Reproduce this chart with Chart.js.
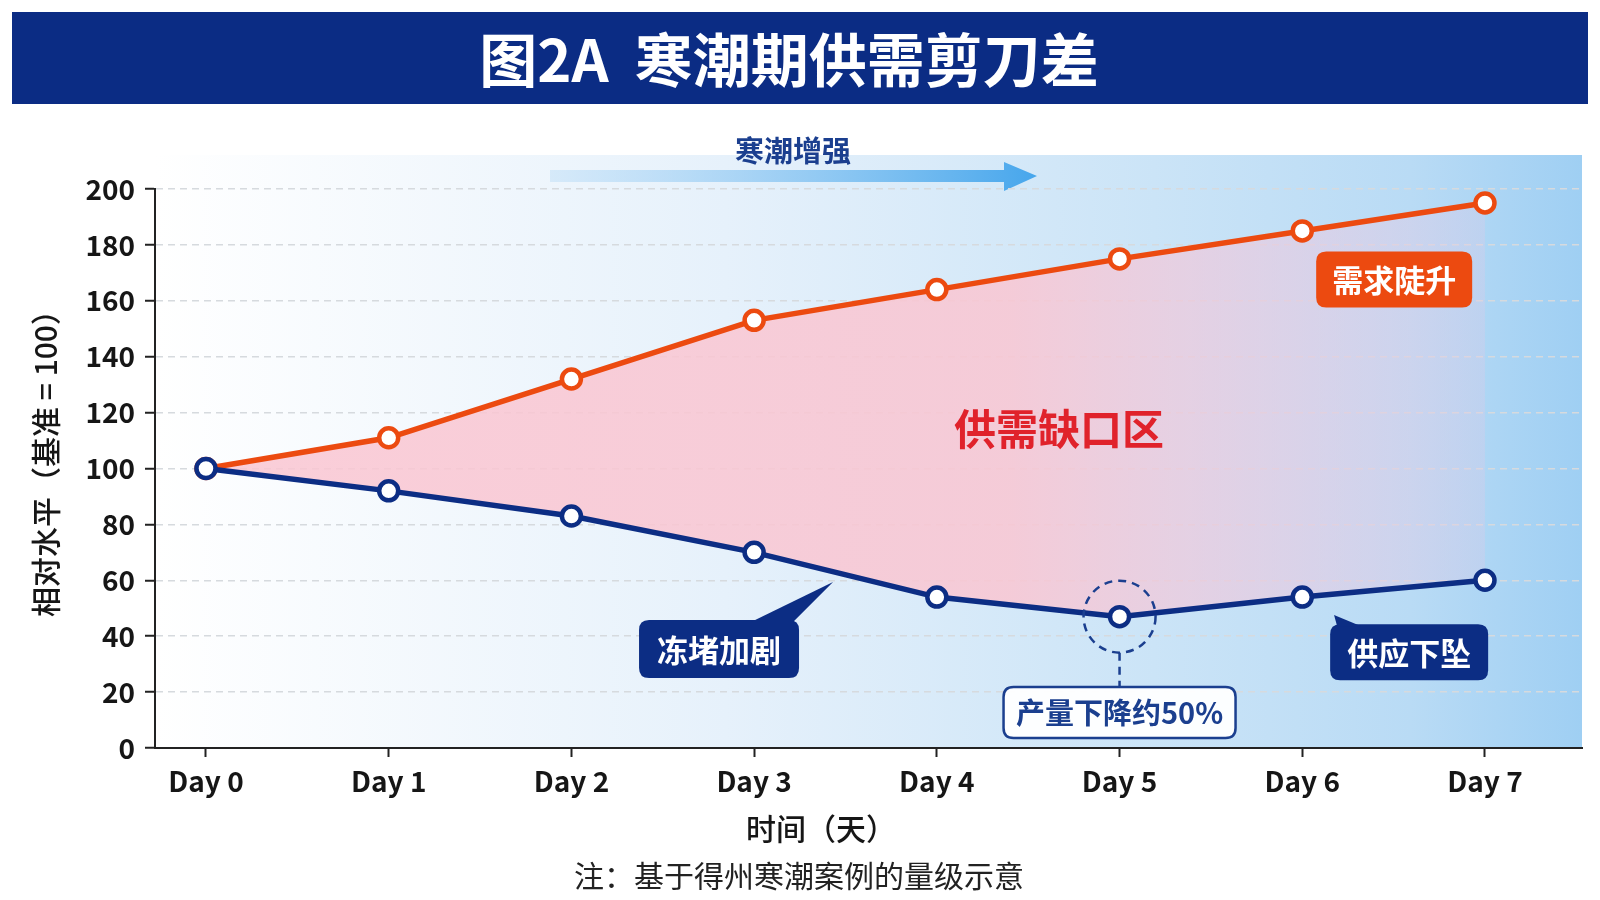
<!DOCTYPE html>
<html><head><meta charset="utf-8">
<script src="https://cdn.jsdelivr.net/npm/chart.js@4.4.1/dist/chart.umd.min.js"></script>
<style>html,body{margin:0;padding:0;background:#fff;}#wrap{width:1600px;height:900px;position:relative}</style>
</head><body><div id="wrap"><canvas id="c"></canvas></div>
<script>
// ---- data ----
const days = ['Day 0','Day 1','Day 2','Day 3','Day 4','Day 5','Day 6','Day 7'];
const demand = [100, 111, 132, 153, 164, 175, 185, 195];
const supply = [100, 92, 83, 70, 54, 47, 54, 60];
const yTicks = [0, 20, 40, 60, 80, 100, 120, 140, 160, 180, 200];
const titleText = '图2A 寒潮期供需剪刀差';
const yTitle = '相对水平（基准 = 100）';
const xTitle = '时间（天）';
const noteText = '注：基于得州寒潮案例的量级示意';
const arrowText = '寒潮增强';
const gapText = '供需缺口区';
const demandTag = '需求陡升';
const jamTag = '冻堵加剧';
const supplyTag = '供应下坠';
const dropTag = '产量下降约50%';

// ---- styles ----
const FONT = "'Noto Sans CJK SC','Noto Sans',sans-serif";
const ORANGE = '#ec4a10';
const NAVY = '#0c2d84';
const NAVY2 = '#1b3f8f';
const INK = '#161616';

function rr(ctx, x, y, w, h, r) {
  ctx.beginPath();
  ctx.moveTo(x + r, y);
  ctx.lineTo(x + w - r, y);
  ctx.quadraticCurveTo(x + w, y, x + w, y + r);
  ctx.lineTo(x + w, y + h - r);
  ctx.quadraticCurveTo(x + w, y + h, x + w - r, y + h);
  ctx.lineTo(x + r, y + h);
  ctx.quadraticCurveTo(x, y + h, x, y + h - r);
  ctx.lineTo(x, y + r);
  ctx.quadraticCurveTo(x, y, x + r, y);
  ctx.closePath();
}

function tag(ctx, cx, cy, w, h, color, text, tail) {
  ctx.save();
  ctx.fillStyle = color;
  rr(ctx, cx - w / 2, cy - h / 2, w, h, 10);
  ctx.fill();
  if (tail) {
    ctx.beginPath();
    ctx.moveTo(tail.b1, cy - h / 2 + 2);
    ctx.lineTo(tail.tx, tail.ty);
    ctx.lineTo(tail.b2, cy - h / 2 + 2);
    ctx.closePath();
    ctx.fill();
  }
  ctx.fillStyle = '#fff';
  ctx.font = 'bold 31px ' + FONT;
  ctx.textAlign = 'center';
  ctx.textBaseline = 'middle';
  ctx.fillText(text, cx, cy + 1);
  ctx.restore();
}

const decor = {
  id: 'decor',
  beforeDraw(chart) {
    const ctx = chart.ctx, ca = chart.chartArea;
    ctx.save();
    ctx.fillStyle = '#fff';
    ctx.fillRect(0, 0, chart.width, chart.height);
    // banner
    ctx.fillStyle = '#0b2c84';
    ctx.fillRect(12, 12, 1576, 92);
    ctx.fillStyle = '#fff';
    ctx.font = 'bold 58px ' + FONT;
    ctx.textBaseline = 'middle';
    const parts = titleText.split(' ');
    const gap = 26;
    const w1 = ctx.measureText(parts[0]).width, w2 = ctx.measureText(parts[1]).width;
    const start = 789 - (w1 + gap + w2) / 2;
    ctx.textAlign = 'left';
    ctx.fillText(parts[0], start, 60);
    ctx.fillText(parts[1], start + w1 + gap, 60);
    ctx.textAlign = 'center';
    // plot background
    const top = ca.top - 34;
    const g = ctx.createLinearGradient(ca.left, 0, ca.right, 0);
    g.addColorStop(0, '#ffffff');
    g.addColorStop(0.4, '#e6f1fb');
    g.addColorStop(0.7, '#cbe4f7');
    g.addColorStop(0.88, '#b9dbf5');
    g.addColorStop(1, '#9fcff3');
    ctx.fillStyle = g;
    ctx.fillRect(ca.left, top, ca.right - ca.left, ca.bottom - top);
    // arrow
    const ay = ca.top - 13;
    const ag = ctx.createLinearGradient(550, 0, 1037, 0);
    ag.addColorStop(0, 'rgba(190,222,247,0.5)');
    ag.addColorStop(1, '#46a6ec');
    ctx.fillStyle = ag;
    ctx.beginPath();
    ctx.moveTo(550, ay - 6);
    ctx.lineTo(1004, ay - 6);
    ctx.lineTo(1004, ay - 14);
    ctx.lineTo(1037, ay);
    ctx.lineTo(1004, ay + 15);
    ctx.lineTo(1004, ay + 6);
    ctx.lineTo(550, ay + 6);
    ctx.closePath();
    ctx.fill();
    ctx.fillStyle = NAVY2;
    ctx.font = 'bold 29px ' + FONT;
    ctx.fillText(arrowText, 793, 151);
    // y title
    ctx.save();
    ctx.translate(46, 456);
    ctx.rotate(-Math.PI / 2);
    ctx.fillStyle = INK;
    ctx.font = '500 30px ' + FONT;
    ctx.fillText(yTitle, 0, 0);
    ctx.restore();
    ctx.restore();
  },
  afterDatasetsDraw(chart) {
    const ctx = chart.ctx, xs = chart.scales.x, ys = chart.scales.y;
    const px = v => xs.getPixelForValue(v), py = v => ys.getPixelForValue(v);
    ctx.save();
    // gap label
    ctx.fillStyle = '#e0222b';
    ctx.font = 'bold 42px ' + FONT;
    ctx.textAlign = 'center';
    ctx.textBaseline = 'middle';
    ctx.fillText(gapText, px(4.669), py(114));
    // demand tag
    tag(ctx, px(6.503), py(167.6), 156, 56, ORANGE, demandTag);
    // jam tag
    const jx = px(2.808), jy = py(35.4);
    tag(ctx, jx, jy, 160, 58, NAVY, jamTag, {b1: jx + 32, b2: jx + 74, tx: px(3.432), ty: py(59.4)});
    // supply tag
    const sx = px(6.585), sy = py(34.3);
    tag(ctx, sx, sy, 158, 56, NAVY, supplyTag, {b1: sx - 72, b2: sx - 48, tx: px(6.174), ty: py(47.6)});
    // dashed circle at Day 5
    const cx = px(5), cy = py(supply[5]);
    ctx.strokeStyle = NAVY2;
    ctx.lineWidth = 2.5;
    ctx.setLineDash([8, 6]);
    ctx.beginPath();
    ctx.arc(cx, cy, 36, 0, Math.PI * 2);
    ctx.stroke();
    const by = py(12.9);
    ctx.beginPath();
    ctx.moveTo(cx, cy + 36);
    ctx.lineTo(cx, by - 25);
    ctx.stroke();
    ctx.setLineDash([]);
    // drop box
    ctx.fillStyle = 'rgba(255,255,255,0.95)';
    rr(ctx, cx - 116, by - 25, 232, 51, 10);
    ctx.fill();
    ctx.lineWidth = 2.5;
    ctx.stroke();
    ctx.fillStyle = NAVY2;
    ctx.font = 'bold 29px ' + FONT;
    ctx.fillText(dropTag, cx, by + 1);
    ctx.restore();
  },
  afterDraw(chart) {
    const ctx = chart.ctx;
    ctx.save();
    ctx.fillStyle = INK;
    ctx.textAlign = 'center';
    ctx.textBaseline = 'middle';
    ctx.font = '500 30px ' + FONT;
    ctx.fillText(xTitle, 821, 829);
    ctx.font = '30px ' + FONT;
    ctx.fillStyle = '#222';
    ctx.fillText(noteText, 799, 876);
    ctx.restore();
  }
};

const ctxEl = document.getElementById('c');
new Chart(ctxEl, {
  type: 'line',
  data: {
    datasets: [
      {
        label: '需求',
        data: demand.map((v, i) => ({x: i, y: v})),
        borderColor: ORANGE,
        borderWidth: 5.5,
        pointRadius: 9.5,
        pointBorderWidth: 4.5,
        pointBackgroundColor: '#fff',
        pointBorderColor: ORANGE,
        tension: 0,
        fill: 1,
        order: 1,
        backgroundColor: (c) => {
          const ca = c.chart.chartArea;
          if (!ca) return 'rgba(0,0,0,0)';
          const g = c.chart.ctx.createLinearGradient(ca.left, 0, ca.right, 0);
          g.addColorStop(0, 'rgba(250,198,210,0.85)');
          g.addColorStop(0.6, 'rgba(250,198,210,0.85)');
          g.addColorStop(0.8, 'rgba(238,200,222,0.55)');
          g.addColorStop(1, 'rgba(228,200,232,0.12)');
          return g;
        }
      },
      {
        label: '供应',
        data: supply.map((v, i) => ({x: i, y: v})),
        borderColor: NAVY,
        borderWidth: 5.5,
        pointRadius: 9.5,
        pointBorderWidth: 4.5,
        pointBackgroundColor: '#fff',
        pointBorderColor: NAVY,
        tension: 0,
        fill: false,
        order: 0
      }
    ]
  },
  options: {
    responsive: true,
    maintainAspectRatio: false,
    animation: false,
    events: [],
    layout: {padding: {left: 0, right: 18, top: 189, bottom: 0}},
    plugins: {legend: {display: false}, tooltip: {enabled: false}, title: {display: false}},
    scales: {
      x: {
        type: 'linear',
        min: -0.279,
        max: 7.531,
        afterBuildTicks: s => { s.ticks = days.map((d, i) => ({value: i})); },
        afterFit: s => { s.height = 152; },
        ticks: {
          callback: v => days[v],
          font: {family: FONT, size: 28, weight: 'bold'},
          color: INK,
          padding: 8,
          maxRotation: 0,
          autoSkip: false
        },
        grid: {drawOnChartArea: false, tickLength: 9, tickColor: '#222', tickWidth: 2},
        border: {color: '#222', width: 2}
      },
      y: {
        min: 0,
        max: 200,
        afterBuildTicks: s => { s.ticks = yTicks.map(v => ({value: v})); },
        afterFit: s => { s.width = 155; },
        ticks: {
          font: {family: FONT, size: 28, weight: 'bold'},
          color: INK,
          padding: 10
        },
        grid: {color: '#d6dade', lineWidth: 1.5, tickLength: 10, tickColor: '#222', tickWidth: 2, tickBorderDash: []},
        border: {color: '#222', width: 2, dash: [7, 5]}
      }
    }
  },
  plugins: [decor]
});
</script>
</body></html>
